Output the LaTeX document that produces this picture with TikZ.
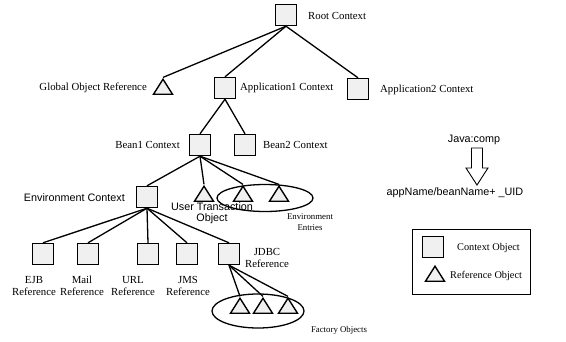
\documentclass[tikz,border=0pt]{standalone}
\usepackage{fontspec}
\setmainfont{Liberation Serif}
\newfontfamily\arialfont{Liberation Sans}
\usetikzlibrary{shapes.geometric}
\begin{document}
\begin{tikzpicture}[x=1pt,y=-1pt,
  ctx/.style={draw, line width=1.4pt, fill=gray!12, minimum size=21pt, inner sep=0pt},
  refobj/.style={draw, line width=1.4pt, fill=gray!12, isosceles triangle, shape border rotate=90,
    isosceles triangle stretches, minimum width=19pt, minimum height=15pt, inner sep=0pt},
  conn/.style={line width=1.3pt},
  lbl/.style={font=\fontsize{10.8}{11.5}\selectfont, inner sep=0pt, align=center},
  slbl/.style={font=\arialfont\fontsize{10.8}{11}\selectfont, inner sep=0pt, align=center},
  smalllbl/.style={font=\fontsize{8.8}{10.5}\selectfont, inner sep=0pt, align=center},
  leglbl/.style={font=\fontsize{10.3}{11}\selectfont, inner sep=0pt},
  grp/.style={draw, line width=1.3pt, ellipse, inner sep=0pt}
]
\useasboundingbox (0,0) rectangle (566,341);

% context objects
\node[ctx] (root) at (286,15) {};
\node[ctx] (app1) at (225,88) {};
\node[ctx] (app2) at (358,89) {};
\node[ctx] (bean1) at (200,145) {};
\node[ctx] (bean2) at (245,145) {};
\node[ctx] (env) at (147,197) {};
\node[ctx] (ejb) at (43,254) {};
\node[ctx] (mail) at (88,254) {};
\node[ctx] (url) at (148,254) {};
\node[ctx] (jms) at (187,254) {};
\node[ctx] (jdbc) at (229,254) {};

% reference objects
\node[refobj] (global) at (163,89) {};
\node[refobj] (utx) at (204,196) {};
\node[refobj] (ent1) at (243,196) {};
\node[refobj] (ent2) at (279,196) {};
\node[refobj] (fac1) at (240,308) {};
\node[refobj] (fac2) at (263,308) {};
\node[refobj] (fac3) at (288,308) {};

% groups
\node[grp, minimum width=96pt, minimum height=27pt] (entries) at (265,198) {};
\node[grp, minimum width=92pt, minimum height=34pt] (factory) at (258,311) {};

% connectors
\draw[conn] (root.south) -- (global.apex);
\draw[conn] (root.south) -- (app1.north);
\draw[conn] (root.south) -- (app2.north);
\draw[conn] (app1.south) -- (bean1.north);
\draw[conn] (app1.south) -- (bean2.north);
\draw[conn] (bean1.south) -- (env.north);
\draw[conn] (bean1.south) -- (utx.apex);
\draw[conn] (bean1.south) -- (ent1.apex);
\draw[conn] (bean1.south) -- (ent2.apex);
\foreach \t in {ejb,mail,url,jms,jdbc}
  \draw[conn] (env.south) -- (\t.north);
\foreach \t in {fac1,fac2,fac3}
  \draw[conn] (jdbc.south) -- (\t.apex);

% labels
\node[lbl, anchor=west] (lroot) at (308,16) {Root Context};
\node[lbl, anchor=east] (lglobal) at (147,88) {Global Object Reference};
\node[lbl, anchor=west] (lapp1) at (240,88) {Application1 Context};
\node[lbl, anchor=west] (lapp2) at (380,90) {Application2 Context};
\node[lbl, anchor=east] (lbean1) at (180,145) {Bean1 Context};
\node[lbl, anchor=west] (lbean2) at (263,145) {Bean2 Context};
\node[slbl, anchor=east] (lenv) at (125,198) {Environment Context};
\node[slbl] (lutx) at (212,213) {User Transaction\\Object};
\node[smalllbl] (lent) at (310,222) {Environment\\Entries};
\node[lbl] (lejb) at (34,286) {EJB\\Reference};
\node[lbl] (lmail) at (82,286) {Mail\\Reference};
\node[lbl] (lurl) at (133,286) {URL\\Reference};
\node[lbl] (ljms) at (188,286) {JMS\\Reference};
\node[lbl] (ljdbc) at (267,258) {JDBC\\Reference};
\node[smalllbl] (lfac) at (339,330) {Factory Objects};

% java:comp mapping
\node[slbl] (java) at (474,140) {Java:comp};
\node[slbl] (uid) at (455,193) {appName/beanName+ \_UID};
\draw[line width=0.9pt, fill=white] (471.5,148) -- (482.5,148) -- (482.5,168) -- (488,168) -- (477,185) -- (466,168) -- (471.5,168) -- cycle;

% legend
\node[draw, line width=1pt, minimum width=118pt, minimum height=65pt, inner sep=0pt] (legend) at (471,262) {};
\node[ctx] (legctx) at (433,247) {};
\node[leglbl, anchor=west] (legctxl) at (457,248) {Context Object};
\node[refobj] (legref) at (435,276) {};
\node[leglbl, anchor=west] (legrefl) at (450,276) {Reference Object};
\end{tikzpicture}
\end{document}
